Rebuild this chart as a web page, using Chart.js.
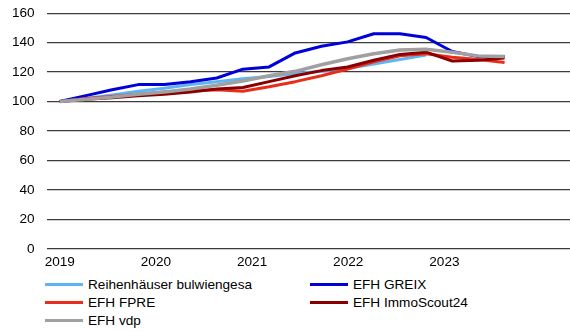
<!DOCTYPE html>
<html>
<head>
<meta charset="utf-8">
<script src="https://cdn.jsdelivr.net/npm/chart.js@4.4.0/dist/chart.umd.min.js"></script>
<style>
    html, body { margin: 0; padding: 0; background: #fff; }
    #wrap { position: relative; width: 570px; height: 332px; overflow: hidden; font-family: "Liberation Sans", Arial, sans-serif; }
    #chart-box { position: absolute; left: 0; top: -7px; width: 570px; height: 276px; }
    #legend { position: absolute; left: 45px; top: 275px; display: grid; grid-template-columns: 265px 230px; row-gap: 0; }
    .item { display: flex; align-items: center; height: 18px; font-size: 13.6px; color: #000; white-space: nowrap; }
    .swatch { width: 38px; height: 3px; margin-right: 5px; }
</style>
</head>
<body>
<div id="wrap">
    <div id="chart-box"><canvas id="price-chart"></canvas></div>
    <div id="legend"></div>
</div>
<script>
// quarterly index values, 2019 Q1 = 100
const yearLabels = ['2019', '2020', '2021', '2022', '2023'];
const yTicks = [0, 20, 40, 60, 80, 100, 120, 140, 160];
const seriesNames = ['Reihenhäuser bulwiengesa', 'EFH GREIX', 'EFH FPRE', 'EFH ImmoScout24', 'EFH vdp'];

const bulwiengesa = [100, 102, 104.5, 107, 109, 111.5, 113.5, 115.5, 117, 119, 120.5, 122.5, 125.5, 128.5, 131.5];
const greix = [100, 104, 108, 111.5, 111.5, 113.5, 116, 122, 123.5, 133, 137.5, 140.5, 146, 146, 143.5, 134, 130.5, 130.5];
const fpre = [100, 102, 103.5, 105, 106.5, 107.5, 108, 107, 110, 113.5, 117.5, 122, 127, 131, 132.5, 130, 128.5, 126.5];
const immoscout = [100, 101.5, 102.5, 104, 105, 106.5, 108.5, 109.5, 113.5, 117.5, 121, 123.5, 128, 132, 133.5, 127.5, 128, 129.5];
const vdp = [100, 101.5, 103, 105, 106.5, 108.5, 111, 114, 117.5, 120.5, 125, 129, 132.5, 135, 135.5, 133.5, 131, 130.5];

const colors = ['#5db5f5', '#0000d8', '#ea2d1b', '#8a0000', '#a0a0a0'];
const widths = [3, 3, 3, 3, 3.5];
const QUARTERS = 20;
const YEAR_STEP = 3.675;   // year labels sit slightly off the quarter grid

function toPoints(values){
    return values.map((v, i) => ({ x: i, y: v }));
}

const allSeries = [bulwiengesa, greix, fpre, immoscout, vdp];
const datasets = allSeries.map((values, i) => ({
    label: seriesNames[i],
    data: toPoints(values),
    borderColor: colors[i],
    backgroundColor: colors[i],
    borderWidth: widths[i],
    pointRadius: 0,
    tension: 0,
    borderJoinStyle: 'round',
    order: allSeries.length - i
}));

const canvas = document.getElementById('price-chart');
const chart = new Chart(canvas, {
    type: 'line',
    data: { datasets },
    options: {
        responsive: true,
        maintainAspectRatio: false,
        animation: false,
        layout: { padding: { top: 0, right: 0, left: 0, bottom: 0 } },
        plugins: {
            legend: { display: false },
            tooltip: { enabled: false }
        },
        scales: {
            x: {
                type: 'linear',
                min: -0.5,
                max: QUARTERS - 0.5,
                afterBuildTicks: (axis) => {
                    axis.ticks = yearLabels.map((_, i) => ({ value: i * YEAR_STEP }));
                },
                ticks: {
                    autoSkip: false,
                    maxRotation: 0,
                    padding: -3,
                    color: '#000',
                    font: { family: '"Liberation Sans", Arial, sans-serif', size: 13.6 },
                    callback: (value, index) => yearLabels[index]
                },
                grid: { display: false },
                border: { display: false }
            },
            y: {
                min: 0,
                max: 160,
                afterBuildTicks: (axis) => {
                    axis.ticks = yTicks.map(v => ({ value: v }));
                },
                ticks: {
                    padding: 12,
                    color: '#000',
                    font: { family: '"Liberation Sans", Arial, sans-serif', size: 13.6 }
                },
                grid: { color: '#3c3c3c', lineWidth: 1.3, drawTicks: false },
                border: { display: false }
            }
        }
    }
});

// two-column legend under the plot
const legendBox = document.getElementById('legend');
chart.data.datasets.forEach((ds) => {
    const item = document.createElement('div');
    item.className = 'item';
    const swatch = document.createElement('span');
    swatch.className = 'swatch';
    swatch.style.background = ds.borderColor;
    const text = document.createElement('span');
    text.textContent = ds.label;
    item.appendChild(swatch);
    item.appendChild(text);
    legendBox.appendChild(item);
});
</script>
</body>
</html>
